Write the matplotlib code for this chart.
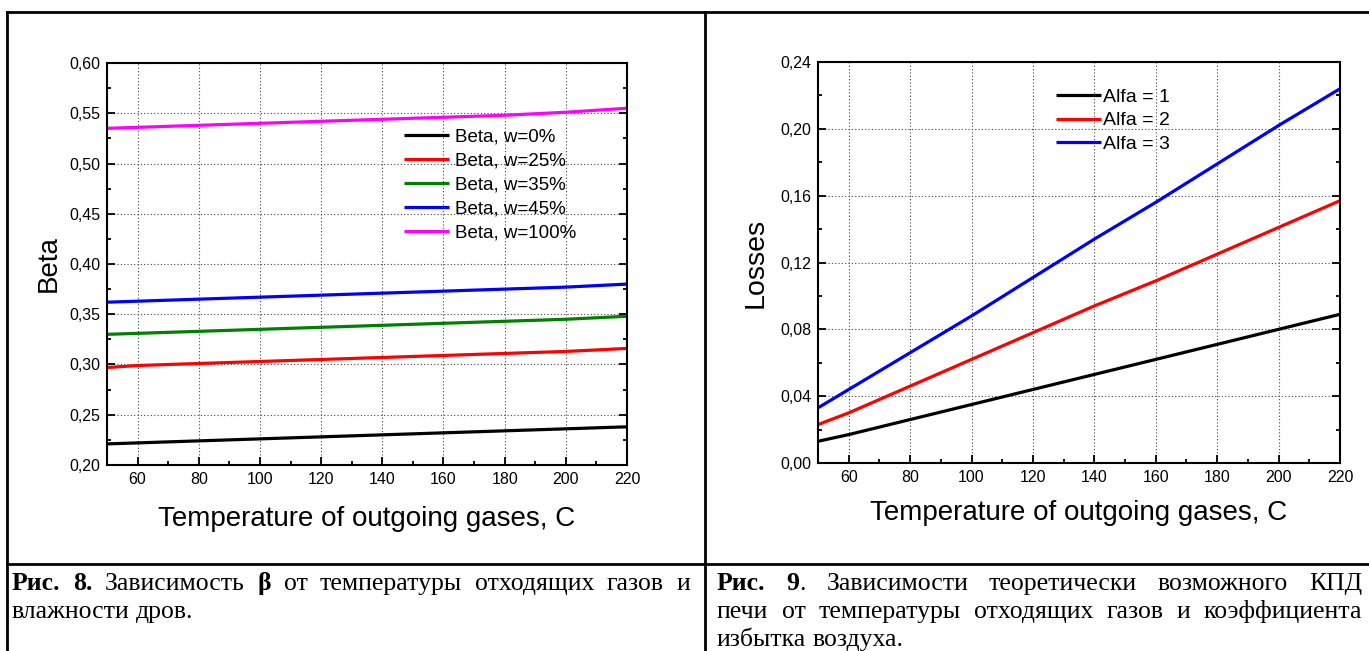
import matplotlib
matplotlib.use("Agg")
import matplotlib.pyplot as plt
from matplotlib.ticker import FuncFormatter, MultipleLocator
from matplotlib.lines import Line2D

W, H = 1369, 651
DPI = 100

# ---------------- data ----------------
temp = [50, 60, 80, 100, 120, 140, 160, 180, 200, 220]

beta_labels = ["Beta, w=0%", "Beta, w=25%", "Beta, w=35%", "Beta, w=45%", "Beta, w=100%"]
beta_colors = ["#000000", "#ff0000", "#008000", "#0000ff", "#ff00ff"]
beta_w0 = [0.221, 0.222, 0.224, 0.226, 0.228, 0.230, 0.232, 0.234, 0.236, 0.238]
beta_w25 = [0.297, 0.299, 0.301, 0.303, 0.305, 0.307, 0.309, 0.311, 0.313, 0.316]
beta_w35 = [0.330, 0.331, 0.333, 0.335, 0.337, 0.339, 0.341, 0.343, 0.345, 0.348]
beta_w45 = [0.362, 0.363, 0.365, 0.367, 0.369, 0.371, 0.373, 0.375, 0.377, 0.380]
beta_w100 = [0.535, 0.536, 0.538, 0.540, 0.542, 0.544, 0.546, 0.548, 0.551, 0.555]

loss_labels = ["Alfa = 1", "Alfa = 2", "Alfa = 3"]
loss_colors = ["#000000", "#ff0000", "#0000ff"]
loss_a1 = [0.013, 0.017, 0.026, 0.035, 0.044, 0.053, 0.062, 0.071, 0.080, 0.089]
loss_a2 = [0.023, 0.030, 0.046, 0.062, 0.078, 0.094, 0.109, 0.125, 0.141, 0.157]
loss_a3 = [0.033, 0.044, 0.066, 0.088, 0.111, 0.134, 0.156, 0.179, 0.202, 0.224]

x_ticks = [60, 80, 100, 120, 140, 160, 180, 200, 220]
xlabel = "Temperature of outgoing gases, C"

# ---------------- figure ----------------
plt.rcParams['font.family'] = ['Liberation Sans', 'DejaVu Sans']
fig = plt.figure(figsize=(W / DPI, H / DPI), dpi=DPI)


def px_rect(l, t, r, b):
    return [l / W, (H - b) / H, (r - l) / W, (b - t) / H]


comma = FuncFormatter(lambda v, p: f"{v:.2f}".replace('.', ','))


def style_axes(ax, ylim, ymajor):
    ax.set_xlim(50, 220)
    ax.set_ylim(*ylim)
    ax.set_xticks(x_ticks)
    ax.xaxis.set_minor_locator(MultipleLocator(10))
    ax.yaxis.set_major_locator(MultipleLocator(ymajor))
    ax.yaxis.set_minor_locator(MultipleLocator(ymajor / 2))
    ax.yaxis.set_major_formatter(comma)
    ax.tick_params(which='both', direction='in', right=True, top=False,
                   width=1.3, labelsize=11.5, pad=5)
    ax.tick_params(which='major', length=6)
    ax.tick_params(which='minor', length=3)
    for s in ax.spines.values():
        s.set_linewidth(1.5)
    ax.grid(True, which='major', linestyle=(0, (1, 2)), color='#444444', linewidth=0.8)


# Left chart
ax1 = fig.add_axes(px_rect(107, 63, 627, 465))
for ys, c, lab in zip([beta_w0, beta_w25, beta_w35, beta_w45, beta_w100], beta_colors, beta_labels):
    ax1.plot(temp, ys, color=c, lw=2.3, label=lab, solid_capstyle='butt')
style_axes(ax1, (0.20, 0.60), 0.05)
ax1.set_ylabel("Beta", fontsize=20, labelpad=5)
ax1.set_xlabel(xlabel, fontsize=20, labelpad=14)
ax1.legend(loc='upper left', bbox_to_anchor=(404 / W, 1 - 128 / H), bbox_transform=fig.transFigure,
           frameon=False, fontsize=13.5, handlelength=2.4, handletextpad=0.3,
           labelspacing=0.37, borderpad=0, borderaxespad=0)

# Right chart
ax2 = fig.add_axes(px_rect(818, 62, 1340, 463))
for ys, c, lab in zip([loss_a1, loss_a2, loss_a3], loss_colors, loss_labels):
    ax2.plot(temp, ys, color=c, lw=2.3, label=lab, solid_capstyle='butt')
style_axes(ax2, (0.0, 0.24), 0.04)
ax2.set_ylabel("Losses", fontsize=20.5, labelpad=8)
ax2.set_xlabel(xlabel, fontsize=20, labelpad=11)
ax2.legend(loc='upper left', bbox_to_anchor=(1056 / W, 1 - 88 / H), bbox_transform=fig.transFigure,
           frameon=False, fontsize=14, handlelength=2.3, handletextpad=0.1,
           labelspacing=0.32, borderpad=0, borderaxespad=0)

# ---------------- table lines ----------------
def fig_line(x0, y0, x1, y1, lw=2.0):
    fig.add_artist(Line2D([x0 / W, x1 / W], [1 - y0 / H, 1 - y1 / H], color='black', lw=lw,
                          transform=fig.transFigure))


fig_line(7, 12, W, 12)
fig_line(7, 12, 7, H)
fig_line(705, 12, 705, H)
fig_line(7, 564, W, 564)

# ---------------- captions ----------------
CAP_FS = 18.5
SERIF = ['Liberation Serif', 'DejaVu Serif']

fig.canvas.draw()
renderer = fig.canvas.get_renderer()


def text_w(s, weight):
    t = fig.text(0, 0, s, fontsize=CAP_FS, family=SERIF, weight=weight)
    w = t.get_window_extent(renderer).width
    t.remove()
    return w


def draw_line(words, x0, x1, y, justify):
    widths = [sum(text_w(s, wt) for s, wt in word) for word in words]
    space = text_w("a a", 'normal') - text_w("aa", 'normal')
    if justify and len(words) > 1:
        gap = (x1 - x0 - sum(widths)) / (len(words) - 1)
    else:
        gap = space
    x = x0
    for word, wdt in zip(words, widths):
        xx = x
        for s, wt in word:
            fig.text(xx / W, 1 - y / H, s, fontsize=CAP_FS, family=SERIF, weight=wt,
                     va='baseline', ha='left')
            xx += text_w(s, wt)
        x += wdt + gap


def plain(s):
    return [[(w, 'normal')] for w in s.split()]


left_l1 = [[("Рис.", 'bold')], [("8.", 'bold')]] + plain("Зависимость") + [[("β", 'bold')]] + \
    plain("от температуры отходящих газов и")
left_l2 = plain("влажности дров.")
draw_line(left_l1, 12, 690, 590, True)
draw_line(left_l2, 12, 690, 618, False)

right_l1 = [[("Рис.", 'bold')], [("9", 'bold'), (".", 'normal')]] + \
    plain("Зависимости теоретически возможного КПД")
right_l2 = plain("печи от температуры отходящих газов и коэффициента")
right_l3 = plain("избытка воздуха.")
draw_line(right_l1, 717, 1362, 590, True)
draw_line(right_l2, 717, 1362, 618, True)
draw_line(right_l3, 717, 1362, 646, False)

fig.savefig("out.png", dpi=DPI)
